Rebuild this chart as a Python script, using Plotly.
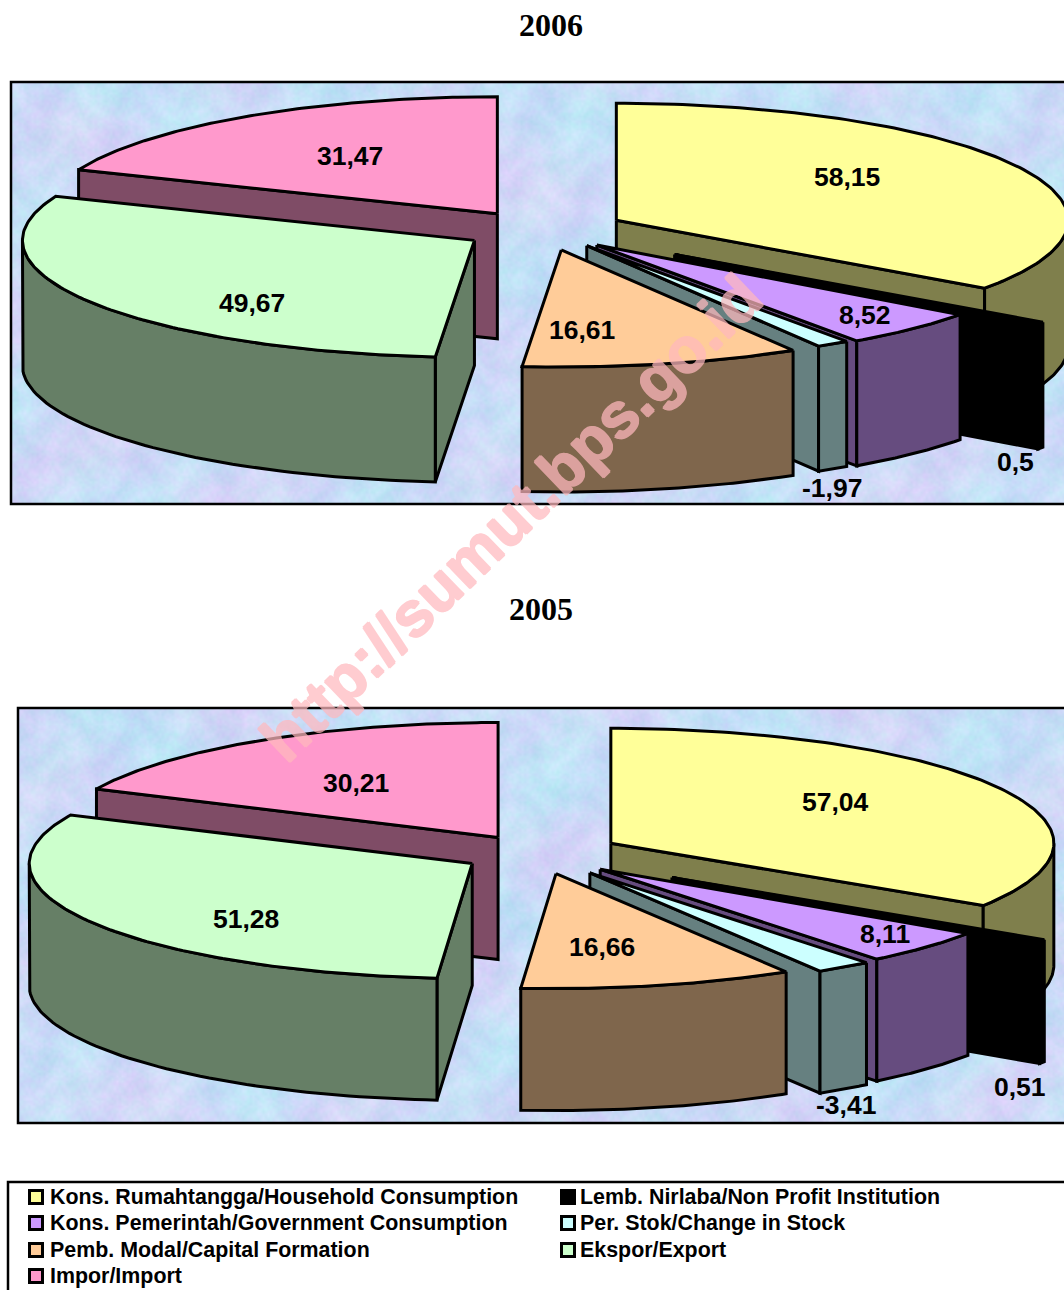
import base64, struct, zlib
import numpy as np
import plotly.graph_objects as go

# ---- data ----
categories = ["Kons. Rumahtangga/Household Consumption", "Lemb. Nirlaba/Non Profit Institution",
              "Kons. Pemerintah/Government Consumption", "Per. Stok/Change in Stock",
              "Pemb. Modal/Capital Formation", "Ekspor/Export", "Impor/Import"]
values_2006 = [58.15, 0.5, 8.52, -1.97, 16.61, 49.67, 31.47]
values_2005 = [57.04, 0.51, 8.11, -3.41, 16.66, 51.28, 30.21]
top_colors = ["#FFFF99", "#000000", "#CC99FF", "#CCFFFF", "#FFCC99", "#CCFFCC", "#FF99CC"]
side_colors = ["#7F7F4C", "#000000", "#664C7F", "#668080", "#7F664C", "#667F66", "#7F4C66"]
draw_order = [6, 0, 1, 2, 3, 4, 5]

# ---- layout parameters for the two exploded pies ----
W, H = 1064, 1290
charts = [
    dict(title="2006", values=values_2006, cx=540, cy=230, rx=452, ry=117, depth=125,
         explode_x=[.19, .368, .18, .19, .21, .17, .169], explode_y=[.18, .355, .18, .16, .175, .17, .167],
         panel=(11, 82, 1075, 504), title_xy=(551, 25),
         label_xy=[(846.5, 177), (1015, 462), (865, 315), (832, 488), (582, 330), (252, 303), (350, 156)]),
    dict(title="2005", values=values_2005, cx=535, cy=854, rx=443, ry=115, depth=122,
         explode_x=[.195, .37, .2, .216, .205, .164, .155], explode_y=[.195, .37, .196, .2, .175, .164, .17],
         panel=(18, 708, 1075, 1123), title_xy=(541, 609),
         label_xy=[(835, 802), (1020, 1087), (885, 934), (846, 1105), (602, 947), (246, 919), (356, 783)]),
]
legend_xy = [(36, 1197), (568, 1197), (36, 1223), (568, 1223), (36, 1250), (568, 1250), (36, 1276)]
legend_text_x = [48, 578, 48, 578, 48, 578, 48]


def texture_uri(seed_a, seed_b, w=420, h=165):
    """Pastel marbled backdrop (decoration only), written as a small PNG."""
    yy, xx = np.mgrid[0:h, 0:w]
    x, y = xx / 12.0, yy / 12.0
    n1 = np.sin(x * .9 + seed_a + 1.7 * np.sin(y * .8 + seed_b)) + np.sin(y * 1.3 - seed_b + 1.4 * np.sin(x * .6))
    n2 = np.sin(x * 2.7 + 1.3 * np.sin(y * 2.3 + seed_a)) * np.sin(y * 3.1 + 1.2 * np.sin(x * 2.9 + seed_b))
    n3 = np.sin(x * 8.3 + 2 * np.sin(y * 7.1)) * np.sin(y * 9.7 + 2 * np.sin(x * 6.7))
    n4 = np.sin(x * 19.3 + 3 * np.sin(y * 17.1)) * np.sin(y * 23.7 + 3 * np.sin(x * 15.7))
    r = 202 + 5 * n1 + 7 * n2 + 7 * n3 + 4 * n4
    g = 221 - 3 * n1 + 5 * np.sin(x * 1.9 + y * 1.1 + seed_b) + 5 * n2 - 4 * n3 + 4 * n4
    b = 248 + 3 * n2 + 3 * n3 + 2 * n4
    img = np.clip(np.dstack([r, g, b]), 0, 255).astype(np.uint8)
    raw = b"".join(b"\x00" + img[i].tobytes() for i in range(h))

    def chunk(tag, data):
        return struct.pack(">I", len(data)) + tag + data + struct.pack(">I", zlib.crc32(tag + data))
    png = (b"\x89PNG\r\n\x1a\n" + chunk(b"IHDR", struct.pack(">IIBBBBB", w, h, 8, 2, 0, 0, 0))
           + chunk(b"IDAT", zlib.compress(raw)) + chunk(b"IEND", b""))
    return "data:image/png;base64," + base64.b64encode(png).decode()


def poly(fig, xs, ys, color, name):
    fig.add_trace(go.Scatter(x=list(xs), y=list(ys), mode="lines", fill="toself", fillcolor=color,
                             line=dict(color="#000000", width=3), name=name, hoverinfo="name",
                             showlegend=False))


def draw_pie(fig, c):
    mags = np.abs(c["values"])
    angles = np.concatenate([[0], np.cumsum(mags) / mags.sum() * 360])
    rx, ry, d = c["rx"], c["ry"], c["depth"]
    for i in draw_order:
        a0, a1 = angles[i], angles[i + 1]
        mid = np.radians((a0 + a1) / 2)
        ax = c["cx"] + c["explode_x"][i] * rx * np.sin(mid)
        ay = c["cy"] - c["explode_y"][i] * ry * np.cos(mid)

        def rim(t):
            t = np.radians(t)
            return ax + rx * np.sin(t), ay - ry * np.cos(t)
        name = categories[i]
        # radial faces turned towards the viewer
        for edge, normal in ((a0, a0 - 90), (a1, a1 + 90)):
            if np.cos(np.radians(normal)) < -1e-6:
                px, py = rim(edge)
                poly(fig, [ax, px, px, ax, ax], [ay, py, py + d, ay + d, ay], side_colors[i], name)
        # outer wall
        lo, hi = max(a0, 90), min(a1, 270)
        if hi > lo:
            xs, ys = rim(np.linspace(lo, hi, 60))
            poly(fig, np.r_[xs, xs[::-1], xs[0]], np.r_[ys, ys[::-1] + d, ys[0]], side_colors[i], name)
        # top
        xs, ys = rim(np.linspace(a0, a1, 120))
        poly(fig, np.r_[ax, xs, ax], np.r_[ay, ys, ay], top_colors[i], name)


fig = go.Figure()
annotations, shapes, images = [], [], []
for k, c in enumerate(charts):
    x0, y0, x1, y1 = c["panel"]
    images.append(dict(source=texture_uri(k * 2.1 + .4, k * 1.3 + 2.2), xref="x", yref="y", x=x0, y=y0,
                       sizex=x1 - x0, sizey=y1 - y0, sizing="stretch", layer="below"))
    shapes.append(dict(type="rect", x0=x0, y0=y0, x1=x1, y1=y1, line=dict(color="#000000", width=2.5),
                       fillcolor="rgba(0,0,0,0)", layer="above"))
    draw_pie(fig, c)
    annotations.append(dict(x=c["title_xy"][0], y=c["title_xy"][1], text=c["title"], showarrow=False,
                            font=dict(family="Liberation Serif", size=32, color="#000000", weight=700)))
    for v, (lx, ly) in zip(c["values"], c["label_xy"]):
        annotations.append(dict(x=lx, y=ly, text=str(v).replace(".", ","), showarrow=False,
                                font=dict(family="Liberation Sans", size=26.5, color="#000000", weight=700)))

# legend box and entries
shapes.append(dict(type="rect", x0=8, y0=1182, x1=1075, y1=1300, line=dict(color="#000000", width=2.5),
                   fillcolor="rgba(0,0,0,0)", layer="below"))
for name, col, (lx, ly), tx in zip(categories, top_colors, legend_xy, legend_text_x):
    fig.add_trace(go.Scatter(x=[lx], y=[ly], mode="markers",
                             marker=dict(symbol="square", size=13, color=col, line=dict(color="#000000", width=3)),
                             name=name, showlegend=False, hoverinfo="name"))
    annotations.append(dict(x=tx, y=ly, text=name, showarrow=False, xanchor="left",
                            font=dict(family="Liberation Sans", size=21.4, color="#000000", weight=700)))

# watermark
wm = "#FFB9BE"
annotations.append(dict(x=511, y=518, text="http://sumut.bps.go.id", textangle=-44, showarrow=False, opacity=.72,
                        font=dict(family="Liberation Sans", size=63.5, color=wm, weight=700,
                                  shadow=f"1px 0 0 {wm}, -1px 0 0 {wm}, 0 1px 0 {wm}, 0 -1px 0 {wm}")))

fig.update_layout(width=W, height=H, margin=dict(l=0, r=0, t=0, b=0), paper_bgcolor="#FFFFFF",
                  plot_bgcolor="#FFFFFF", showlegend=False, annotations=annotations, shapes=shapes, images=images,
                  xaxis=dict(range=[0, W], visible=False, fixedrange=True),
                  yaxis=dict(range=[H, 0], visible=False, fixedrange=True))
fig.write_html("out.html", config=dict(displayModeBar=False),
               post_script="document.body.style.margin='0';document.body.style.overflow='hidden';")
